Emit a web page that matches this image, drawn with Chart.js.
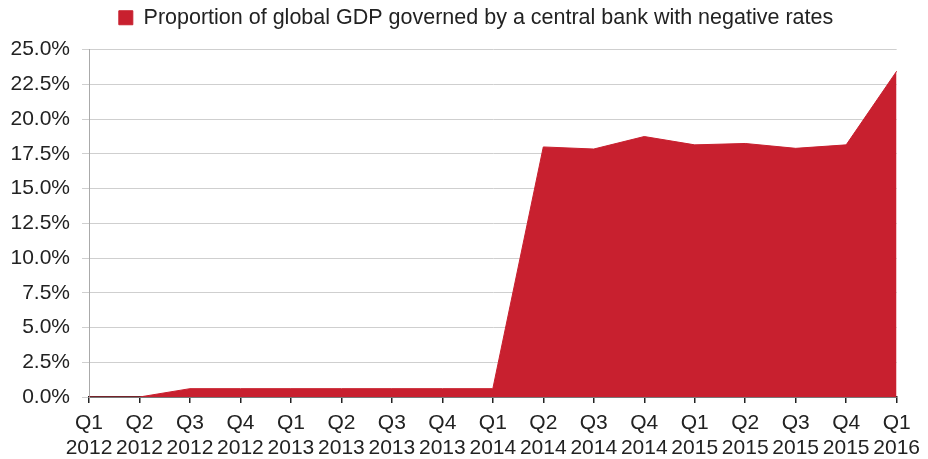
<!DOCTYPE html>
<html>
<head>
<meta charset="utf-8">
<script src="https://cdn.jsdelivr.net/npm/chart.js@4.4.1/dist/chart.umd.min.js"></script>
<style>
  html, body { margin: 0; padding: 0; background: #fff; }
  #wrap { width: 928px; height: 459px; }
</style>
</head>
<body>
<div id="wrap"><canvas id="grafico" width="928" height="459"></canvas></div>
<script>
// datos
const trimestres = ['Q1', 'Q2', 'Q3', 'Q4', 'Q1', 'Q2', 'Q3', 'Q4', 'Q1', 'Q2', 'Q3', 'Q4', 'Q1', 'Q2', 'Q3', 'Q4', 'Q1'];
const anios = ['2012', '2012', '2012', '2012', '2013', '2013', '2013', '2013', '2014', '2014', '2014', '2014', '2015', '2015', '2015', '2015', '2016'];
const proporcionPIB = [0, 0, 0.6, 0.6, 0.6, 0.6, 0.6, 0.6, 0.6, 18.0, 17.85, 18.75, 18.15, 18.25, 17.9, 18.15, 23.45];
const tituloSerie = 'Proportion of global GDP governed by a central bank with negative rates';

const etiquetas = trimestres.map((q, i) => [q, anios[i]]);
const rojo = '#c8202f';
const fuente = 'Liberation Sans, Arial, sans-serif';

// centra la leyenda sobre x = 476 (un poco a la derecha), como en el original
const moverLeyenda = {
  id: 'moverLeyenda',
  beforeDraw(chart) {
    const leyenda = chart.legend;
    if (!leyenda) return;
    leyenda.left = 52;
    leyenda.right = 900;
  }
};

new Chart(document.getElementById('grafico'), {
  type: 'line',
  data: {
    labels: etiquetas,
    datasets: [{
      label: tituloSerie,
      data: proporcionPIB,
      backgroundColor: rojo,
      borderColor: rojo,
      borderWidth: 1,
      fill: 'origin',
      tension: 0,
      pointRadius: 0
    }]
  },
  plugins: [moverLeyenda],
  options: {
    responsive: false,
    animation: false,
    devicePixelRatio: 1,
    layout: { padding: { left: 0, right: 28, top: 0, bottom: 0 } },
    plugins: {
      legend: {
        position: 'top',
        weight: 3000,
        labels: {
          boxWidth: 14,
          boxHeight: 14,
          padding: 7,
          color: '#222',
          font: { family: fuente, size: 21.5 }
        }
      },
      // título vacío que solo sirve de espacio bajo la leyenda
      title: {
        display: true,
        text: '',
        weight: 500,
        font: { size: 1 },
        padding: { top: 0, bottom: 10 }
      },
      tooltip: { enabled: false }
    },
    scales: {
      x: {
        offset: false,
        grid: { drawOnChartArea: false, color: '#222', tickLength: 6, lineWidth: 1.5 },
        border: { color: '#222', width: 1.5 },
        ticks: {
          maxRotation: 0,
          autoSkip: false,
          padding: 8,
          color: '#222',
          font: { family: fuente, size: 21, lineHeight: 1.17 }
        },
        afterFit: (escala) => { escala.height = 62; }
      },
      y: {
        min: 0,
        max: 25,
        grid: { color: '#cfcfcf', tickLength: 7 },
        border: { color: '#aaa' },
        ticks: {
          stepSize: 2.5,
          padding: 12,
          color: '#222',
          font: { family: fuente, size: 21 },
          callback: (v) => v.toFixed(1) + '%'
        },
        afterFit: (escala) => { escala.width = 89; }
      }
    }
  }
});
</script>
</body>
</html>
